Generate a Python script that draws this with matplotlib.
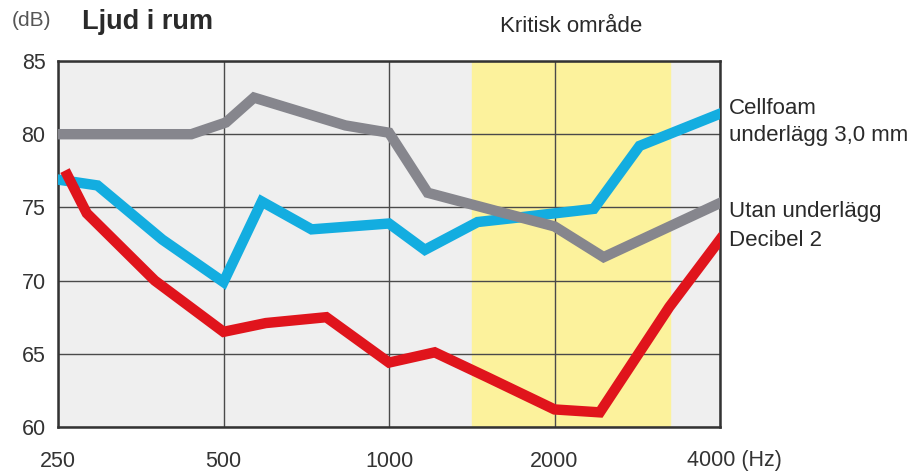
import matplotlib
matplotlib.use("Agg")
import matplotlib.pyplot as plt
from matplotlib.ticker import FixedLocator, NullLocator

plt.rcParams['font.family'] = ['Liberation Sans', 'DejaVu Sans']

# data (Hz, dB)
utan_f = [250, 437, 505, 568, 833, 1000, 1176, 2000, 2457, 4000]
utan_db = [80.0, 80.0, 80.8, 82.5, 80.6, 80.1, 76.0, 73.7, 71.6, 75.3]

cell_f = [250, 295, 387, 500, 587, 723, 1000, 1162, 1449, 1711, 2357, 2856, 4000]
cell_db = [76.9, 76.5, 72.8, 69.9, 75.4, 73.5, 73.9, 72.1, 74.0, 74.3, 74.9, 79.2, 81.4]

dec_f = [260, 282, 375, 500, 597, 769, 1000, 1211, 1510, 2000, 2418, 3235, 4000]
dec_db = [77.2, 74.6, 70.0, 66.5, 67.1, 67.5, 64.4, 65.1, 63.4, 61.2, 61.0, 68.2, 72.8]

x_ticks = [250, 500, 1000, 2000, 4000]
x_labels = ['250', '500', '1000', '2000', '']
y_ticks = [60, 65, 70, 75, 80, 85]
critical = (1414, 3250)

################################################################################

fig = plt.figure(figsize=(9.22, 4.72), dpi=100)
ax = fig.add_axes([58 / 922, 1 - 427 / 472, (720 - 58) / 922, (427 - 61) / 472])
ax.set_facecolor('#efefef')

ax.set_xscale('log')
ax.set_xlim(250, 4000)
ax.set_ylim(60, 85)

ax.axvspan(critical[0], critical[1], color='#fcf29c', zorder=0)

ax.xaxis.set_major_locator(FixedLocator(x_ticks))
ax.xaxis.set_minor_locator(NullLocator())
ax.set_xticks(x_ticks)
ax.set_xticklabels(x_labels)
ax.set_yticks(y_ticks)
ax.grid(True, color='#4a4a4a', linewidth=1.0, zorder=1)
ax.set_axisbelow(True)
ax.tick_params(length=0, labelsize=15.5, labelcolor='#333333')
ax.tick_params(axis='x', pad=17)
ax.tick_params(axis='y', pad=9)
for s in ax.spines.values():
    s.set_color('#333333')
    s.set_linewidth(1.8)

lw = 7.5
ax.plot(cell_f, cell_db, color='#13ade0', linewidth=lw, solid_joinstyle='miter', zorder=3)
ax.plot(utan_f, utan_db, color='#86868d', linewidth=lw, solid_joinstyle='miter', zorder=4)
ax.plot(dec_f, dec_db, color='#e0141c', linewidth=lw, solid_joinstyle='miter', zorder=5)

# texts
fig.text(12 / 922, 1 - 21 / 472, '(dB)', fontsize=15, color='#555555', va='center')
fig.text(82 / 922, 1 - 22 / 472, 'Ljud i rum', fontsize=19.5, fontweight='bold', color='#2a2a2a', va='center')
fig.text(571 / 922, 1 - 26 / 472, 'Kritisk område', fontsize=16, color='#2a2a2a', va='center', ha='center')
fig.text(687 / 922, 1 - 466 / 472, '4000 (Hz)', fontsize=15.5, color='#333333', va='baseline')

tx = 729 / 922
fs = 16
fig.text(tx, 1 - 109 / 472, 'Cellfoam', fontsize=fs, color='#2a2a2a', va='center')
fig.text(tx, 1 - 136 / 472, 'underlägg 3,0 mm', fontsize=fs, color='#2a2a2a', va='center')
fig.text(tx, 1 - 211 / 472, 'Utan underlägg', fontsize=fs, color='#2a2a2a', va='center')
fig.text(tx, 1 - 241 / 472, 'Decibel 2', fontsize=fs, color='#2a2a2a', va='center')

fig.savefig('out.png', dpi=100)
